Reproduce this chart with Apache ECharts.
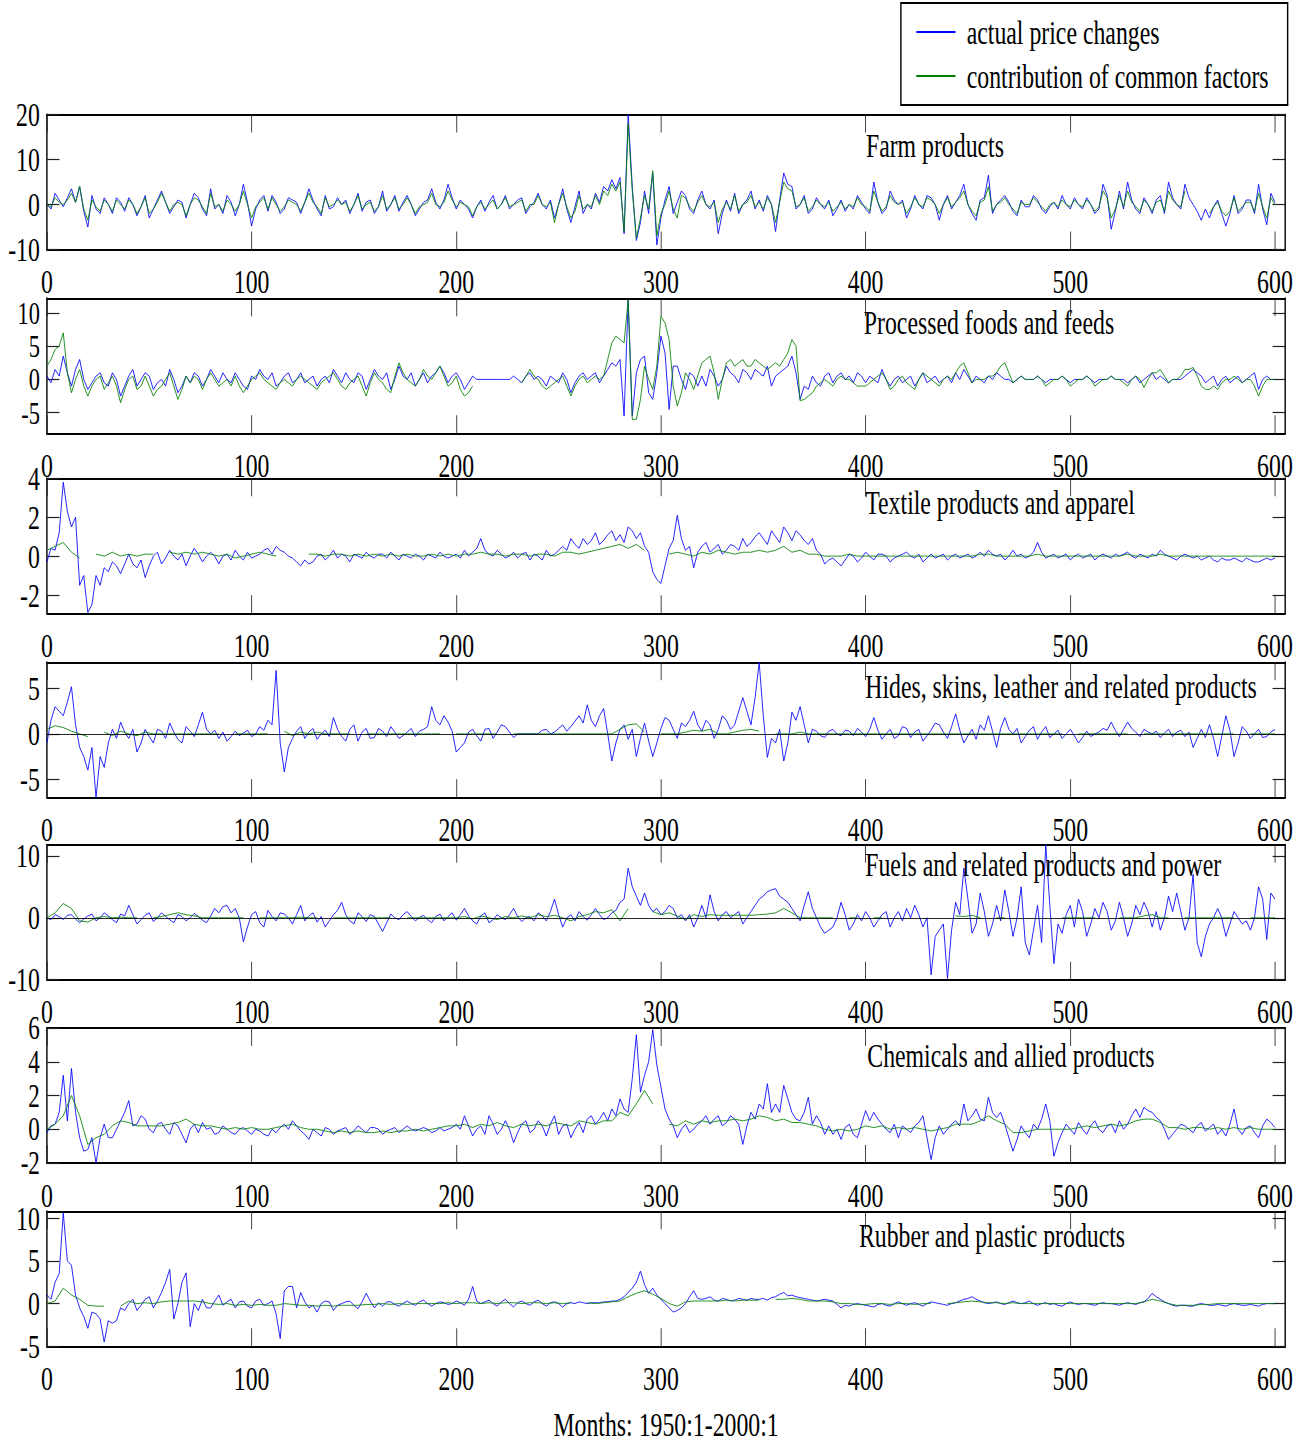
<!DOCTYPE html>
<html><head><meta charset="utf-8">
<script src="https://cdn.jsdelivr.net/npm/echarts@6/dist/echarts.min.js"></script>
<style>
html,body{margin:0;padding:0;background:#fff;overflow:hidden;width:1314px;height:1447px;}
#chart{position:absolute;left:0;top:0;width:1877px;height:1447px;transform:scaleX(0.7);transform-origin:0 0;}
</style></head><body><div id="chart"></div>
<script>
// ---------------- data ----------------
const ACTUAL_STEP = 2;                       // actual price changes: one value every 2 months (0..600)
const commonSteps = [2, 2, 4, 4, 4, 4, 4];   // common-factor series sampling step, per panel
const xTickValues = [0, 100, 200, 300, 400, 500, 600];
const seriesNames = ['actual price changes', 'contribution of common factors'];
const panelTitles = ['Farm products', 'Processed foods and feeds', 'Textile products and apparel',
  'Hides, skins, leather and related products', 'Fuels and related products and power',
  'Chemicals and allied products', 'Rubber and plastic products'];
const yTickValues = [[-10, 0, 10, 20], [-5, 0, 5, 10], [-2, 0, 2, 4], [-5, 0, 5], [-10, 0, 10], [-2, 0, 2, 4, 6], [-5, 0, 5, 10]];

const farmActual = [
  0, -1, 2.5, 1, -0.5, 1.5, 3.5, 0.5, 4, -1.5, -5, 2, -1, -2, 1.5, 0, -2, 1.5, 0.5, -1.5,
  1.5, 0, -2.5, -0.5, 2, -3, -1, 1, 3, 0.5, -2, -0.5, 1, 0.5, -3, 0, 2.5, 1.5, -1, -2.5,
  3.5, -1, 0, -2, 2, 0.5, -2.5, 0, 4.5, 0.5, -4.8, -1, 1, 2, -1.5, 2, 0.5, -2, -1, 1.5,
  1, 0.5, -2, 0.5, 3.5, 1, -1, -2.5, 2, -1, -0.5, 1.5, 0, 1, -2, 0, 2.5, -1.5, 0.5, 1,
  -2, -0.5, 3, -1.5, 0, 2, -1.5, 0.5, 2, 0, -2.5, -1, 0.5, 1, 3.5, 0.5, -1, 1, 4.5, 1.5,
  -1, 1, 0, -1, -3, -0.5, 1, -1.5, 0.5, 2, -1, 0, 2, -1, 0, 1, 1.5, -2, -0.5, 0.5,
  2.5, 0, -1, 1, -3, 0, 3.5, -1, -4, -0.5, 3, -2, 0, -1, 2.5, 0.5, 4, 3, 5.5, 3.5,
  6, -6.5, 20, 4, -8, -4, 3, -2, 7, -9, -3, 1, 4, -2, 0.5, 3, 2, -1, -2, 1,
  3, 0, -1, 1, -6.5, -2, 1, -1.5, 2.5, -2, 0, 1, 3, -1, 1, -1.5, 2, 0, -6, 1,
  7, 4.5, 4, -1, 0, 2, -2, -1, 1.5, 0, -1, 1, -2.5, -1, 1, -1.5, 0, -1, 2, 0.5,
  -1, -2, 5, 0.5, -2, -1, 3, 1, 0, 1, -3, -1, 2, 0, -1, 2, 1.5, 0, -3.5, 0,
  2, -1, 0.5, 2, 4.5, 0, -2, -3.5, 1, 1.5, 6.5, -2, 0, 1, 2, 0.5, -1.5, -2.5, 1, -0.5,
  -0.5, 2, 1, -1, -2, -0.5, 0.5, -1, 2, 0, -1, 1.5, 0, -1, 1.5, 0, -2, -1, 4.5, 2,
  -5.5, -1.5, 3, -1, 5, 1, -1, -2, 1.5, 0, -2, 1, 2, -2, 5, 1.5, 0, -1, 4.5, 1.5,
  0, -1.5, -3.5, -1, -3, -0.5, 1, -2, -4.8, -2, 2, -2, -1, 1, 1, -2, 4.5, -1, -4.5, 2.5,
  0.5];
const farmCommon = [
  0, -0.5, 1.5, 0.5, 0, 1, 2.5, 0.5, 4, -1, -3.5, 1, -0.5, -1.5, 1, 0, -1.5, 1, 0, -1,
  1, 0, -2, -0.5, 1.5, -2, -1, 0.5, 2.5, 0.5, -1.5, 0, 0.5, 0, -2.5, 0, 1.5, 1, -0.5, -2,
  2.5, -0.5, 0, -1.5, 1, 0, -1.5, 0, 3, 0, -3, -0.5, 0.5, 1.5, -1, 1.5, 0, -1.5, -0.5, 1,
  0.5, 0, -1.5, 0.5, 2.5, 0.5, -0.5, -2, 1.5, -0.5, 0, 1, 0, 0.5, -1.5, 0, 2, -1, 0, 0.5,
  -1.5, -0.5, 2, -1, 0, 1.5, -1, 0, 1.5, 0, -2, -0.5, 0, 0.5, 2.5, 0, -0.5, 0.5, 3, 1,
  -0.5, 0.5, 0, -0.5, -2.5, -0.5, 0.5, -1, 0, 1, -1, 0, 1.5, -0.5, 0, 0.5, 1, -1.5, 0, 0,
  2, 0, -0.5, 0.5, -4, 0, 2.5, -0.5, -3, -1.5, 2, -1, 0, -0.5, 2, 0, 3, 2, 4.5, 3,
  5, -6, 18, 3, -7.5, -3, 2, -1, 7.5, -7, -2, 0, 3, -1, -3, 2, 1.5, -0.5, -1.5, 0.5,
  2, 0, -0.5, 0.5, -4, -1, 0.5, -1, 2, -1.5, 0, 0.5, 2, -0.5, 0.5, -1, 1.5, 0, -4, 0.5,
  5, 3.5, 3, -0.5, 0, 1.5, -1.5, -0.5, 1, 0, -0.5, 0.5, -1.5, -0.5, 0.5, -1, 0, -0.5, 1.5, 0,
  -0.5, -1.5, 3, 0.5, -1.5, -0.5, 2, 0.5, 0, 0.5, -2, -0.5, 1.5, 0, -0.5, 1.5, 1, 0, -2, 0,
  1.5, -0.5, 0.5, 1.5, 3, 0, -1.5, -2.5, 0.5, 1, 4, -1.5, 0, 0.5, 1.5, 0, -1, -2, 0.5, 0,
  0, 1.5, 0.5, -0.5, -1.5, 0, 0.5, -0.5, 1, 0, -0.5, 1, 0, -0.5, 1, 0, -1.5, -0.5, 3, 1.5,
  -3, -1, 2, -0.5, 3, 0.5, -0.5, -1.5, 1, 0, -1.5, 0.5, 1, -1.5, 3, 1, 0, -0.5, 3, null,
  null, null, null, null, -2, -0.5, 0.5, -1.5, -2.5, -1.5, 1.5, -1.5, -0.5, 0.5, 0.5, -1.5, 2.5, -0.5, -3, 1.5,
  0];

const processedActual = [
  0.5, -0.5, 1.5, 0.5, 3.5, 1, -1, 1.5, 3, 0, -1.5, -0.5, 0.5, 1, -0.5, -1, 1, 0, -2.5, -1,
  0.5, 1.5, -1, 0, 1, 0.5, -1.5, -0.5, 0, -1, 1.5, 0, -2, -1, 0.5, -0.5, 1, 0.5, -1, 0,
  1.5, 0.5, -0.5, 1, 0, -0.5, 1, 0, -1, -1.5, 0.5, 0, 1.5, 0.5, 0, 1, -1, -0.5, 0.5, 1,
  -0.5, 0, 1, -0.5, 0, 0.5, -1, 0, 0.5, -0.5, 1.5, 0.5, -0.5, 1, 0, -0.5, 1, 0.5, -1.5, 0,
  1.5, 0.5, 0, 1, -1.5, 0, 2, 0.5, 0, 1, -1, 0, 1, -0.5, 0.5, 1, 2, 1, -0.5, 0.5,
  1, 0, -1.5, -0.5, 0.5, 0, 0, 0, 0, 0, 0, 0, 0, 0, 0.5, 0, -0.5, 0.5, 1, 0,
  0.5, 0, -1, 0.5, 0, -0.5, 1, 0, -2, -0.5, 0.5, 1, 0, 0.5, 1, -0.5, 0.5, 1.5, 2.5, 2,
  3, -5.5, 12, -5.5, 1, 3, 3.5, -2, -3, 1, 6.5, 4, -4.5, 2, 2, 0, -1.5, 1, 0.5, -1,
  0.5, -1, 1.5, 0.5, -1, 0, 2, 1, 0.5, -0.5, 1.5, 1, 0, 1.5, 1, 0.5, 2, -1, 0.5, 1,
  1.5, 2, 3.5, 1, -3, -1, -1.5, 0.5, -0.5, -1, 0.5, 1, -0.5, 0.5, 1, 0, 0.5, -0.5, 1, 0.5,
  -0.5, 0.5, 0, -0.5, 1.5, 0, -1, 0, 0.5, -0.5, 0, 0.5, -1, 0, 1, -0.5, 0, 0.5, -0.5, 0,
  0.5, -0.5, 1, 0, 1.5, 0.5, -0.5, 0.5, 0, -0.5, 0.5, 0, 1, 0.5, 0, 0, -0.5, 0, 0.5, 0,
  0, 0, 0.5, 0, -0.5, 0, 0, 0, 0.5, 0, -0.5, 0, 0, 0, 0.5, 0, -0.5, 0, 0, 0,
  0.5, 0, 0, 0, -0.5, 0, 0.5, -0.5, 0, 0.5, 1, 0, 0.5, 0, -0.5, 0, 0, 0, 0.5, 1,
  1.5, 1, 0.5, -0.5, 0, 0.5, -1, 0, 0.5, -0.5, 0, 0.5, -0.5, 0, 0.5, 1, -1.5, 0, 0.5, 0,
  0];
const processedCommon = [
  2, 3, 4.5, 5, 7, 1, -2, 0, 1.5, -1, -2.5, -1, 0, 0.5, -1.5, -0.5, 0.5, -1, -3.5, -1.5,
  0, 0.5, -1.5, -1, 0.5, -1, -2.5, -1.5, -1, 0, 1, -1, -3, -1.5, 0.5, -0.5, 0.5, 0, -1.5, 0,
  1, 0, -1, -0.5, 0, -1, 0.5, -1, -2, -1, 0, 0.5, 1, 0, -0.5, -1, -1.5, -0.5, 0, -0.5,
  -1, 0, 0.5, 0, -0.5, -1, -1.5, -0.5, 0, 0.5, 1, 0, -1, -1.5, -0.5, 0, 0.5, -1, -2.5, -0.5,
  1, 0, -0.5, -1.5, -2, 0.5, 2.5, 1, 0, -0.5, -1, 0, 1.5, 0.5, 0, 1, 2, 0.5, -1, -0.5,
  0.5, -1.5, -2.5, -2, -1, null, null, null, null, null, null, null, null, null, null, null, -0.5, 0.5, 1.5, 0.5,
  0, -1, -1.5, -1, -0.5, 0, 0.5, -1, -2.5, -1, 0, 0.5, -0.5, 0, 0.5, 0, 0.5, 3, 5.5, 6.5,
  6, 5.5, 12, -6, -6, -3, 2, 0, -1.5, 2, 9.5, 8.5, 6, -1, -4, -2, 1, 0, -1.5, 0.5,
  2.5, 3, 3.5, 1, -3, 0, 2.5, 3, 2, 2.5, 3, 2, 2, 3, 2.5, 2, 1.5, 2, 2.5, 2,
  3, 4, 6, 5, -3.2, -3, -2.5, -2, -1, -0.5, 0, -0.5, -1, 0, 0.5, 0, 0, -0.5, -1, -1,
  -1, -0.5, 0, 0.5, 1, 0, -1.5, -1, 0, 0.5, -0.5, -1, -1.5, 0, 1, 0.5, 0, -0.5, -1, 0,
  0.5, 0, 1, 2, 2.5, 1, -0.5, 0, 0, 0, 0.5, 0.5, 1, 2, 2.5, 1, -0.5, 0, 0.5, 0,
  0, 0, 0.5, 0, -1, -0.5, 0, 0, 0.5, 0, -1, -0.5, 0, 0, 0.5, 0, -1, -0.5, 0, 0,
  0.5, 0, 0, -0.5, -1, 0, 0.5, 0, -1.2, 0, 1, 1, 1.5, 0.5, -0.5, 0, 0, 0.5, 1.5, 1.5,
  1.8, 0.5, -1, -1.5, -1.5, -1, -1.5, -0.5, 0, 0, 0.5, 0, -0.5, 0, 0, -1, -2.5, -1, 0, 0,
  0];

const textileActual = [
  -0.3, 0.4, 0.3, 1.2, 3.8, 2.3, 1.5, 2, -1.5, -1, -2.9, -2.5, -1, -1.5, -0.6, -0.8, -0.3, -0.5, -0.9, -0.4,
  0.1, -0.4, -0.6, -0.2, -1.1, -0.5, 0, 0.2, -0.4, -0.1, 0.3, 0, -0.2, 0.1, -0.5, 0, 0.4, 0.1, -0.3, 0,
  0.2, 0, -0.4, 0, 0.1, -0.2, 0.3, 0, -0.2, 0.2, -0.1, 0, 0.1, 0.3, 0.4, 0.1, 0.5, 0.3, 0.2, 0,
  -0.1, -0.3, -0.5, -0.2, -0.4, -0.3, 0, 0.1, -0.2, 0, 0.3, -0.1, 0.1, 0, -0.3, 0.1, 0, -0.1, 0.2, 0,
  -0.1, 0.1, 0.1, -0.1, 0.2, 0, -0.2, 0.1, 0, -0.1, 0.1, 0, -0.2, 0.1, 0, -0.1, 0.2, 0, -0.1, 0,
  0.1, -0.1, 0.3, 0, 0.2, 0.4, 0.9, 0.3, 0.1, 0, 0.3, 0.1, -0.1, 0, 0.2, -0.1, 0.1, 0.2, -0.2, 0.1,
  0, -0.2, 0.3, 0, 0.1, 0.3, 0.5, 0.3, 0.9, 0.6, 0.4, 0.9, 0.6, 0.8, 1.2, 0.6, 0.8, 1.1, 1.3, 0.8,
  1.1, 0.7, 1.5, 1.3, 0.9, 1.2, 0.5, 0.2, -0.8, -1.2, -1.4, -0.5, 0.4, 0.8, 2.1, 0.9, 0.3, 0.5, -0.6, 0.2,
  0.5, 0.7, 0.2, 0.4, 0.6, 0.1, 0.3, 0.6, 0.5, 0.3, 0.9, 0.5, 0.7, 1, 1.2, 0.9, 0.6, 1.3, 1, 0.7,
  1.5, 1.2, 0.8, 1.3, 1.1, 0.8, 0.6, 0.9, 0.3, 0.1, -0.4, -0.2, -0.1, -0.3, -0.5, -0.2, 0.1, 0, -0.3, -0.1,
  0.2, 0, -0.2, 0.1, 0.1, 0, -0.3, -0.1, 0, 0.1, 0.2, 0, -0.1, 0.1, -0.3, -0.1, 0.1, -0.1, 0, 0.1,
  -0.2, 0, 0.1, -0.1, 0, 0.1, -0.1, 0, 0.2, 0, 0.3, 0.1, 0, 0.1, -0.2, 0, 0.3, 0, 0.1, -0.1,
  0, 0.2, 0.7, 0.2, -0.1, 0, 0.1, -0.1, 0, 0.1, -0.2, 0, 0.1, -0.1, 0, 0.1, -0.2, 0, 0.1, 0,
  -0.1, 0.1, 0, 0.1, 0.2, 0, -0.1, 0.1, 0, -0.1, 0.1, 0, 0.3, 0.1, 0, -0.1, -0.2, 0, 0.1, 0,
  -0.1, 0, -0.2, -0.1, 0, -0.2, -0.3, -0.1, -0.2, -0.2, -0.1, -0.2, -0.3, -0.1, -0.2, -0.3, -0.3, -0.2, -0.1, -0.2,
  -0.1];
const textileCommon = [
  0.3, 0.5, 0.7, 0.2, -0.1, null, 0.1, 0, 0.2, 0,
  0.1, 0, 0.1, 0.1, null, 0.2, 0.1, 0.2, 0.1, 0.2,
  0.1, 0, 0.1, -0.1, 0, 0.1, 0.2, 0.1, 0, null,
  null, null, 0.1, 0.1, 0, 0.1, 0.1, 0, 0.1, 0,
  0.1, 0, 0.1, 0, 0.1, 0, 0, 0.1, 0, 0.1,
  0, 0.1, 0.1, 0.2, 0.1, 0.1, 0, 0.1, 0.1, 0,
  0.1, 0.1, 0, 0.2, 0.2, 0.1, 0.2, 0.3, 0.4, 0.5,
  0.6, 0.4, 0.6, 0.3, null, null, 0.1, 0.2, 0.1, 0,
  0.2, 0.1, 0.3, 0.2, 0.1, 0.2, 0.2, 0.3, 0.2, 0.3,
  0.5, 0.2, 0.3, 0.1, 0.1, 0, 0, 0, 0.1, 0,
  0, 0, 0, 0, 0, 0, 0, 0, 0, 0,
  0, 0, 0, 0, 0.1, 0.1, 0, 0, 0, 0,
  0, 0.1, 0, 0, 0, 0, 0, 0, 0, 0,
  0, 0, 0.1, 0, 0, 0, 0.1, 0, 0, 0,
  0, 0, 0, 0, 0, 0, 0, 0, 0, 0,
  0];

const hidesActual = [
  -1, 1.5, 3, 2.5, 2, 3.5, 5.2, 1, -1.5, -2.5, -4, -1.5, -7, -2.5, -3.7, -1, 0.5, -0.5, 1.3, 0.2,
  -0.5, 0.5, -2, -1, 0.5, -0.3, -1, 0.5, 0.3, -0.5, 1.2, 0.2, -0.6, -1, 0.8, 0.3, -0.3, 1, 2.4, 0.5,
  0, 0.4, -0.5, 0.2, -0.8, -0.3, 0.3, -0.2, 0.1, 0.4, -0.3, 0, 0.8, 0.4, 1.5, 1, 7, -1, -4.2, -1.5,
  -0.5, 0.3, 0.8, -0.5, 0.2, 0.6, -0.6, 0, 0.4, -0.3, 1.8, 0.5, -0.3, -0.8, 0.5, 1, -0.8, 0.2, 0.6, -0.5,
  -0.4, 0.6, 0.3, -0.3, 0.8, 0.2, -0.5, -0.2, 0.2, 0.6, -0.3, 0.3, 0.5, 0.8, 3, 1.5, 1, 2, 1.3, 0.3,
  -2, -1.5, -1, 0.2, 0.5, -0.2, -0.8, 0.5, 0.6, -0.5, 0.2, 1, 0.8, 0.2, -0.4, 0, 0, 0, 0, 0,
  0, 0.4, 0.5, 0, 0.2, 0.6, 1, 0.3, 0.8, 1.4, 2, 1.2, 3.2, 1.5, 0.8, 2, 2.8, 0, -3, -1,
  0.5, 1, -0.6, 0.5, -2.5, -0.5, 1.2, -0.8, -2.5, -1, 0.6, 1.8, 1.5, 0.5, -0.5, 1.2, 0.8, 1.5, 2.5, 1,
  0.3, 1.5, 1, -0.5, 0.5, 2, 1.5, 0.5, 1, 2.5, 4, 2.5, 1, 4, 7.9, 2, -2.6, -0.5, -1, 0.5,
  -3, -1, 2.4, 1.5, 3, 1, -1, 0.5, 0.3, -0.2, -0.4, 0.3, 0.5, 0, -0.2, 0.4, 0.3, -0.2, 0.6, 0.2,
  -0.3, 0.5, 1.8, 0.4, -0.6, 0, 0.5, -0.5, -0.2, 0.8, 0.6, -0.4, 0.2, 0.5, -0.8, -0.2, 0.4, 1.2, 1, 0.2,
  -0.5, 0.8, 2.2, 0.4, -1, -0.2, 0.5, -0.6, 1, 0.4, 2, 0.3, -1.5, 0.6, 1.8, 0.5, 0, 0.6, -1, -0.3,
  0.4, 0.8, -0.6, 0.2, 0.8, -0.4, 0, 0.4, -0.5, 0, 0.5, -0.2, -1, -0.4, 0.3, -0.3, 0, 0.2, 0.6, 0.4,
  1.3, 0.4, -0.3, 0.5, 1.3, 0.6, 0.2, -0.3, 0.5, 0.2, 0, 0.3, -0.4, 0.1, 0.5, -0.3, 0.2, 0.4, -0.3, 0.2,
  -1.5, -0.5, 0.5, -0.4, 1, -0.5, -2.5, -0.3, 2, 0.4, -2.5, -1, 0.8, 0.3, -0.5, 0, 0.5, -0.4, -0.3, 0.2,
  0.5];
const hidesCommon = [
  0.5, 0.9, 0.7, 0.3, 0, -0.3, null, 0.2, -0.2, 0.3,
  0, -0.2, 0.2, 0, 0, 0, 0, 0, 0, 0,
  0, 0, null, 0, 0, 0, 0, 0, null, 0.3,
  -0.2, 0.2, 0, 0.2, 0, 0, 0, 0, null, 0,
  0, 0, 0, 0, 0, 0, 0, 0, 0, null,
  0, 0, 0, 0, 0, 0, null, 0, 0, 0,
  0, 0, 0, 0, 0, 0, 0, 0, 0, 0,
  0.5, 1, 1.1, 0.2, null, 0, 0, 0, 0.2, 0.4,
  0.3, 0.5, 0, 0, 0.2, 0.4, 0.5, 0.3, null, 0,
  0, 0, 0.2, 0, 0, 0, 0, 0, 0, 0,
  0, 0, 0, 0, 0, 0, 0, 0, 0, 0,
  0, 0, 0, 0, 0, 0, 0, 0, 0, 0,
  0, 0, 0, 0, 0, null, 0, 0, 0, 0,
  0, 0, 0, null, 0, 0, 0, 0, 0, 0,
  0, 0, 0, 0, 0, 0, null, 0, 0, 0,
  0];

const fuelsActual = [
  0, -0.3, 0.5, 0.2, -0.3, 0.4, 0.5, -0.2, -0.8, -0.2, 0.3, 0.6, -0.5, 0, 0.8, 0.3, -0.3, -0.8, 0.6, 0.3,
  2, 0.5, -1, -0.3, 0.4, 0.8, -0.6, 0, 0.8, 0.2, -0.3, -0.8, 0.5, 0.2, -0.5, 0, 0.7, 0.2, -0.4, -0.8,
  0.3, 1.5, 0.8, 1.8, 2, 0.8, 1.5, 0, -3.9, -1.5, 0.5, 1, -0.8, -1.5, 1.2, 0.2, -0.5, 0.8, 0.6, 0,
  -1, 0.5, 2, -0.5, 0.3, 0.8, -0.7, 0.2, -1.5, -0.5, 0.5, 1.2, 2.5, 0.5, -0.5, -1, 0.8, 0.2, -0.6, 0.5,
  0.2, -1, -2.2, -0.8, 0.6, 0, -0.3, 0.5, 1, 0.2, -0.5, 0, 0.4, -0.3, -0.8, 0.2, 0.6, -0.5, 0.2, 0.8,
  -0.4, 0.5, 1.5, 0.3, -0.5, -1, 0.3, 0.8, -0.8, -0.3, 0.5, 0, -0.3, 0.5, 1.5, 0.2, -0.6, 0, 0.2, -0.5,
  0.8, 0.3, -0.5, 1, 3, 0.5, -1.5, 0, 0.5, -0.5, 1, 0.2, -0.4, 0.5, 1.5, 0.5, -0.3, 0, 0.8, 1.2,
  2.5, 3, 8, 5, 3.5, 2, 4, 2, 1, 1.5, 0.5, 1, 2, 1.5, 0, 0.5, -0.5, 0.5, -1.5, 0,
  2, 0, 3.7, 1, -0.5, 0.5, 1, 0, 0.5, 1, -1, 0, 1, 2, 3, 3.5, 4.2, 4.5, 4.7, 3.5,
  3, 2.5, 1.5, 0.5, -0.5, 2, 4.2, 1.5, 0, -1.5, -2.5, -2, -1.5, 0, 2.5, 0.5, -2, -1, 0.5, -0.5,
  1, 0, -1.5, -0.5, 0.5, 1, -1.5, 0, 1, -0.5, 1.5, 0, 2, 0.5, -1.5, 0, -9.2, -3, -2, -1,
  -9.8, -2, 2.5, 0.5, 8, 3, -2.5, -1, 4, 1, -3, -1, 2, -0.5, 4.5, 1, -3, 0, 5, -4,
  -6, -2, 2, -4, 11.8, 2, -7.4, -1, -2.5, 0.5, 2, -1.5, 3, 1, -3, -1, 1.5, 0, 2.5, 1,
  -2, -0.5, 2.5, 0, -3, -1, 2, 0.5, 2.5, 1, -1.5, 1, -2, 0, 3.5, 1, 4, 1, -2, 0,
  7, -4, -6.3, -3, -1, 0, 1.5, 0, -3, -1, 1, 0, -1, -0.5, -2, 0, 5, 3, -3.5, 4,
  3];
const fuelsCommon = [
  0, 0.8, 2.3, 1.5, -0.5, -0.7, 0, 0.2, 0, 0.1,
  0, 0, null, 0, 0.2, 0.5, 0.8, 0.5, 0.3, 0,
  0, 0, 0, 0, 0, null, 0, 0, 0, 0,
  0, 0.1, 0, 0, null, 0, 0, 0, 0, 0,
  0, 0, 0, null, 0, 0, 0, 0, 0, 0,
  0, 0.2, -0.2, 0.3, 0, -0.3, 0.2, 0, 0.3, 0,
  0.5, 0.2, 0.4, 0, -0.5, 0.2, 0.5, 1, 0.8, 1.3,
  -0.5, 1.5, null, null, 1, 0.5, 0.8, 0.3, -0.3, 0.5,
  0.2, 0.5, 0.4, 0.4, 0.4, 0.4, 0.4, 0.5, 0.6, 0.8,
  1.5, 0.8, 0, 0, 0, 0, 0, null, 0, 0,
  null, 0, 0, null, null, null, null, null, null, null,
  null, 0.3, 0.2, 0.4, 0, null, 0, 0, null, null,
  null, null, null, null, 0, 0, 0, 0, 0, null,
  null, 0, 0, 0, 0.3, 0.5, 0, 0, null, 0,
  0, 0, 0, 0, 0, 0, null, 0, 0, 0,
  0];

const chemicalsActual = [
  -0.2, 0.2, 0.3, 1, 3.2, 0.5, 3.6, 1, -0.5, -1.3, -1.2, -0.5, -2, -0.5, 0.3, -0.5, -0.5, 0, 0.5, 1,
  1.7, 0.2, 0.3, 0.8, 0.6, 0, -0.2, 0.3, 0.4, 0, -0.3, 0.4, 0.2, -0.3, -0.8, 0, 0.3, -0.2, 0.4, 0,
  0.1, -0.3, -0.2, 0.2, 0, -0.2, -0.3, 0, 0.1, -0.1, -0.3, 0, -0.1, -0.3, -0.4, 0, -0.2, 0.1, 0.3, 0,
  0.5, 0.2, -0.1, -0.3, -0.6, 0, -0.2, -0.4, 0.1, 0, -0.3, -0.1, 0, 0.1, -0.3, -0.1, 0.2, 0, -0.2, 0.1,
  0.1, 0, -0.3, -0.1, 0, 0.1, -0.2, 0, 0.2, 0, -0.1, 0, 0.1, 0, -0.2, -0.1, 0.1, -0.1, 0, 0.1,
  0.3, 0, 0.8, 0.2, -0.4, 0, 0.2, -0.3, 0.8, 0.3, -0.3, 0, 0.5, 0, -0.8, -0.2, 0.3, 0.5, -0.2, 0,
  0.5, 0.2, -0.4, 0.3, 0.8, -0.3, 0.2, 0.3, -0.5, 0, 0.4, -0.2, 0.6, 0.8, 0.3, 0.6, 1, 0.5, 1.2, 0.8,
  1.8, 1.2, 1, 3, 5.6, 2.2, 3.2, 4, 5.9, 3.8, 2.5, 1.2, 0.6, 0.2, -0.5, 0, 0.3, -0.2, 0, 0.3,
  0.5, 0.8, 0.3, 0.6, 0.8, 0.2, 0.4, 0.8, 0.6, 0.3, -0.9, 0.2, 1, 0.6, 1.5, 1.2, 2.7, 1, 1.5, 1,
  2.6, 1.8, 1, 0.6, 0.5, 1, 1.9, 0.3, 0.8, 0.4, -0.3, 0.2, -0.3, 0, -0.6, 0.1, 0.3, -0.3, -0.5, 0.3,
  1.1, 0.5, 1, 0.6, 0.3, 0, -0.2, 0.3, -0.5, 0.2, 0, -0.2, 0.2, 0.4, 0.8, -0.5, -1.8, -0.5, 0.2, -0.3,
  0, 0.3, 0.5, 0.2, 1.5, 0.5, 0.8, 1.2, 0.6, 0.5, 1.9, 1, 0.7, 1, 0.3, -0.5, -1.3, -0.6, 0.2, -0.2,
  -0.5, 0.3, 0, 0.6, 1.5, 0.5, -1.6, -0.8, -0.2, 0.3, 0, -0.3, 0.4, 0, -0.3, 0.2, 0.5, 0, -0.2, 0.2,
  0.3, -0.2, 0.5, 0, 0.3, 0.8, 1.2, 0.7, 1.3, 1.1, 1, 0.7, 0.5, 0, -0.6, -0.3, 0, 0.3, 0.2, 0,
  -0.2, 0.2, 0.4, -0.1, 0.1, 0.3, -0.3, 0, -0.4, 0.3, 1.2, 0, -0.3, 0.1, 0.2, -0.2, -0.5, 0.2, 0.6, 0.4,
  0.1];
const chemicalsCommon = [
  0, 0.3, 0.8, 2, 0.8, -0.9, -0.5, -0.3, 0.2, 0.5,
  0.4, 0.2, 0.2, 0.2, 0.2, 0.3, 0.4, 0.6, 0.3, 0.2,
  0.2, 0.1, 0, 0.1, 0, 0.1, 0, 0, 0.1, 0.2,
  0.3, 0.1, 0, 0, -0.1, -0.2, -0.1, -0.2, -0.1, -0.2,
  -0.2, -0.1, -0.2, -0.1, -0.1, 0, -0.1, 0, 0.1, 0.2,
  0.2, 0.3, 0.1, 0.3, 0.2, 0.4, 0.2, 0.1, 0.3, 0.2,
  0.3, 0.2, 0.4, 0.3, 0.2, 0.5, 0.4, 0.3, 0.5, 0.5,
  1, 0.8, 1.5, 2.3, 1.5, null, 0.3, 0.2, 0.5, 0.3,
  0.5, 0.4, 0.5, 0.5, 0.6, 0.5, 0.6, 0.8, 0.7, 0.5,
  0.6, 0.4, 0.4, 0.3, 0.2, 0, -0.1, 0, -0.1, 0,
  0.2, 0.1, 0.2, 0, 0.1, 0, 0.1, 0, -0.1, 0,
  0.1, 0.3, 0.3, 0.3, 0.5, 0.8, 0.5, 0.3, -0.2, -0.2,
  -0.1, 0, 0, 0, 0, 0, 0.1, 0.2, 0.1, 0.2,
  0.3, 0.2, 0.3, 0.5, 0.6, 0.6, 0.4, 0.1, 0.1, 0,
  0.1, 0.1, 0, 0.1, 0, 0.1, 0, 0.1, 0, 0,
  0];

const rubberActual = [
  1, 0.5, 2.5, 3.5, 10.6, 5, 4.5, 1, -0.5, -1.5, -2.9, -1, -1.2, -1.8, -4.5, -2, -2.3, -2, -0.5, -0.8,
  0, 0.5, -0.8, -0.2, 0.5, 0.8, -0.5, 0.3, 1.3, 2.5, 4, -1.8, 0, 2.5, 3.6, -2.7, 0, -0.8, 0.5, -0.5,
  -0.5, 0.3, 1, -0.2, 0.2, 0.5, -0.5, 0.2, 0.3, -0.3, -0.5, 0.3, 0.5, -0.2, 0, 0.3, -1.2, -4.1, 1.5, 2,
  2, -0.5, 1.3, 0.2, -0.5, -0.2, -1, 0, 0.3, 0.2, -0.8, -0.2, 0, 0.2, 0.3, -0.2, -0.6, 0.2, 1.2, 0.3,
  -0.5, 0.1, -0.3, 0.2, 0.2, -0.1, -0.3, 0, 0.3, 0, -0.2, 0.2, 0.4, 0, -0.3, 0, 0.2, 0.1, -0.1, 0,
  0.3, 0.1, -0.2, 0.5, 2, 0.3, 0, 0.2, 0.4, 0, -0.3, 0.2, 0.5, 0, -0.4, 0.1, 0.3, 0, -0.2, 0.2,
  0.4, 0, -0.3, 0.1, 0.2, 0, -0.4, 0, 0.1, 0, 0.2, 0.1, 0, 0.1, 0.1, 0.1, 0.2, 0.2, 0.3, 0.3,
  0.5, 0.8, 1.3, 1.8, 2.5, 3.8, 2.2, 1.2, 1.8, 1, 0.5, 0, -0.5, -1, -0.8, -0.5, 0, 0.8, 1.5, 0.6,
  0.5, 0.6, 0.8, 0.4, 0.3, 0.6, 0.5, 0.3, 0.4, 0.6, 0.5, 0.4, 0.6, 0.5, 0.5, 0.6, 0.4, 0.7, 0.8, 1.1,
  1.3, 0.9, 1, 0.8, 0.7, 0.6, 0.5, 0.4, 0.3, 0.4, 0.5, 0.4, 0.3, -0.1, -0.5, -0.2, -0.3, -0.1, 0, -0.1,
  -0.2, -0.3, -0.4, -0.1, 0, -0.2, -0.3, 0, 0.2, 0, -0.2, 0, 0.1, -0.1, -0.3, 0, 0.2, 0.1, 0, -0.1,
  -0.2, 0, 0.1, 0.3, 0.5, 0.6, 0.8, 0.5, 0.3, 0.1, 0, 0.1, 0.2, 0, -0.1, 0.1, 0.3, 0.1, 0, 0.1,
  0.3, 0, -0.2, 0, 0.1, -0.1, 0, -0.2, -0.3, 0, 0.2, 0, -0.1, 0, 0, -0.1, -0.2, 0, 0.1, 0,
  0, -0.1, -0.2, 0, 0.1, 0, -0.1, 0.1, 0.2, 0.6, 1.2, 0.8, 0.5, 0.2, 0, -0.2, -0.3, -0.2, -0.2, -0.3,
  -0.3, -0.1, 0, -0.1, -0.2, -0.2, -0.1, -0.2, -0.3, -0.1, 0, -0.1, -0.2, -0.2, -0.1, -0.2, -0.3, -0.1, 0, 0,
  0];
const rubberCommon = [
  0, 0.3, 1.8, 1, 0.5, -0.2, -0.3, -0.3, null, -0.3,
  0.3, 0, 0.1, 0, 0.2, 0.3, 0.3, 0.3, 0.3, 0.2,
  0, -0.1, 0, -0.2, -0.1, -0.2, -0.1, -0.2, -0.2, 0,
  -0.1, -0.2, -0.2, -0.3, -0.2, -0.3, -0.2, -0.2, -0.2, -0.1,
  -0.1, 0, -0.1, 0, -0.1, 0, 0, 0, 0, 0.1,
  0, 0.1, 0.1, 0, 0.1, 0, 0.1, 0.1, 0, 0.1,
  0.1, 0, 0.1, 0, 0.1, null, 0.1, 0, 0.1, 0.2,
  0.3, 0.8, 1.2, 1.5, 1.1, 0.6, 0, -0.3, 0.2, 0.3,
  0.3, 0.3, 0.3, 0.4, 0.3, 0.4, 0.4, 0.4, null, 0.5,
  0.5, 0.6, 0.5, 0.3, 0.3, 0.3, 0.2, 0, 0, -0.1,
  -0.1, 0, 0, -0.1, 0, 0, -0.1, 0, 0, null,
  0, 0.1, 0.2, 0.3, 0.2, 0.1, 0.1, 0, 0.1, 0,
  0, 0, 0, 0, 0, 0, 0, 0, 0, 0,
  0, 0, 0, 0, 0.2, 0.5, 0.3, 0, -0.2, -0.2,
  -0.2, -0.1, -0.1, 0, 0, 0, 0, 0, 0, 0,
  0];

const actualSeries = [farmActual, processedActual, textileActual, hidesActual, fuelsActual, chemicalsActual, rubberActual];
const commonSeries = [farmCommon, processedCommon, textileCommon, hidesCommon, fuelsCommon, chemicalsCommon, rubberCommon];

// ---------------- layout (chart drawn 1/0.7 wide, then condensed by CSS) ----------------
const FONT = "'Liberation Serif', 'Times New Roman', serif";
const gridTops = [114.5, 298.3, 478.3, 662.3, 844.7, 1028, 1211.3];
const gridHeight = 135;
const yMins = [-10, -8.1, -2.94, -7.0, -10, -2, -5];
const yMaxs = [20, 12.2, 4, 7.9, 11.8, 6, 10.8];
const yLabelSizes = [34, 32, 34, 34, 34, 33, 34];
const titleLefts = [1237, 1234, 1236, 1236, 1236, 1239, 1227];
const titleCenters = [145, 322, 502, 686, 864, 1055, 1235];
const zeroLinePanels = [3, 4];

const txt = { fontFamily: FONT, fontSize: 34, color: '#000', lineHeight: 30 };
const boxLine = { show: true, onZero: false, lineStyle: { color: '#000', width: 2 } };
const tickStyle = { color: '#222', width: 1.2 };

function pairs(arr, step) { return arr.map((v, i) => [i * step, v]); }

const grid = [], xAxis = [], yAxis = [], series = [], title = [];
for (let p = 0; p < 7; p++) {
  grid.push({ left: 67, right: 41, top: gridTops[p], height: gridHeight });
  const xb = {
    gridIndex: p, type: 'value', min: 0, max: 605, position: 'bottom',
    axisLine: boxLine, splitLine: { show: false },
    axisTick: { show: true, inside: true, length: 18, customValues: xTickValues, lineStyle: tickStyle },
    axisLabel: Object.assign({ show: true, customValues: xTickValues, margin: 17, showMinLabel: true, showMaxLabel: true, hideOverlap: false }, txt)
  };
  if (p === 6) {
    xb.name = 'Months: 1950:1-2000:1';
    xb.nameLocation = 'middle';
    xb.nameGap = 63;
    xb.nameTextStyle = Object.assign({}, txt);
  }
  const xIdx = xAxis.length;
  xAxis.push(xb);
  xAxis.push({
    gridIndex: p, type: 'value', min: 0, max: 605, position: 'top',
    axisLine: boxLine, splitLine: { show: false },
    axisTick: { show: true, inside: true, length: 18, customValues: xTickValues, lineStyle: tickStyle },
    axisLabel: { show: false }
  });
  // labels are split over two coincident left axes so that closely spaced labels are never auto-hidden
  const ticks = yTickValues[p];
  const labelsA = ticks.filter((v, i) => i % 2 === 0);
  const labelsB = ticks.filter((v, i) => i % 2 === 1);
  const yTxt = Object.assign({}, txt, { fontSize: yLabelSizes[p], lineHeight: Math.min(30, yLabelSizes[p]) });
  const yIdx = yAxis.length;
  yAxis.push({
    gridIndex: p, type: 'value', min: yMins[p], max: yMaxs[p], position: 'left',
    axisLine: boxLine, splitLine: { show: false },
    axisTick: { show: true, inside: true, length: 18, customValues: ticks, lineStyle: tickStyle },
    axisLabel: Object.assign({ show: true, customValues: labelsA, margin: 10, showMinLabel: true, showMaxLabel: true, hideOverlap: false }, yTxt)
  });
  yAxis.push({
    gridIndex: p, type: 'value', min: yMins[p], max: yMaxs[p], position: 'left', offset: 0,
    axisLine: { show: false }, axisTick: { show: false }, splitLine: { show: false },
    axisLabel: Object.assign({ show: true, customValues: labelsB, margin: 10, showMinLabel: true, showMaxLabel: true, hideOverlap: false }, yTxt)
  });
  yAxis.push({
    gridIndex: p, type: 'value', min: yMins[p], max: yMaxs[p], position: 'right',
    axisLine: boxLine, splitLine: { show: false },
    axisTick: { show: true, inside: true, length: 18, customValues: ticks, lineStyle: tickStyle },
    axisLabel: { show: false }
  });
  const blue = {
    name: seriesNames[0], type: 'line', xAxisIndex: xIdx, yAxisIndex: yIdx,
    data: pairs(actualSeries[p], ACTUAL_STEP), symbol: 'none', showSymbol: false, connectNulls: false,
    lineStyle: { color: '#0000ff', width: 1 }, itemStyle: { color: '#0000ff' }, z: 2
  };
  if (zeroLinePanels.indexOf(p) >= 0) {
    blue.markLine = { silent: true, symbol: 'none', label: { show: false },
      lineStyle: { color: '#000', width: 1, type: 'solid' }, data: [{ yAxis: 0 }] };
  }
  series.push(blue);
  series.push({
    name: seriesNames[1], type: 'line', xAxisIndex: xIdx, yAxisIndex: yIdx,
    data: pairs(commonSeries[p], commonSteps[p]), symbol: 'none', showSymbol: false, connectNulls: false,
    lineStyle: { color: '#008000', width: 1 }, itemStyle: { color: '#008000' }, z: 3
  });
  title.push({
    text: panelTitles[p], left: titleLefts[p], top: titleCenters[p] - 15, padding: 0,
    textStyle: Object.assign({ fontWeight: 'normal' }, txt)
  });
}

const chart = echarts.init(document.getElementById('chart'), null, { renderer: 'svg' });
chart.setOption({
  animation: false,
  backgroundColor: '#fff',
  title: title,
  legend: {
    data: seriesNames, orient: 'vertical', left: 1287, top: 3,
    padding: [9, 27, 9, 22], itemGap: 4, itemWidth: 56, itemHeight: 2, icon: 'rect',
    borderColor: '#000', borderWidth: 2, selectedMode: false,
    textStyle: Object.assign({}, txt, { lineHeight: 40, padding: [0, 0, 0, 11] })
  },
  grid: grid, xAxis: xAxis, yAxis: yAxis, series: series
});
</script></body></html>
